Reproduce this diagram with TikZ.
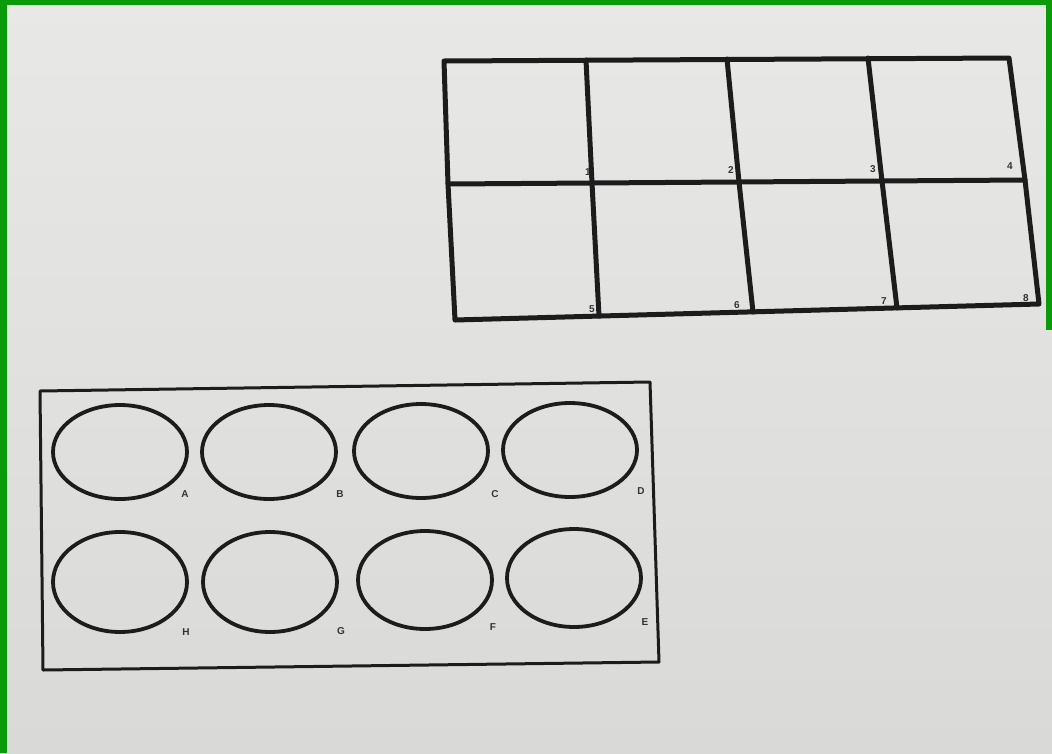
\documentclass[tikz,border=0pt]{standalone}
\usepackage{fontspec}
\setmainfont{Liberation Sans}
\usetikzlibrary{shapes.geometric}
\definecolor{bg}{HTML}{E8E9E7}
\definecolor{bgdark}{HTML}{D9D9D8}
\definecolor{frame}{HTML}{0A9A0A}
\definecolor{ink}{HTML}{1C1C1C}
\tikzset{
  gridline/.style={draw=ink, line width=5pt, line cap=round, line join=round},
  trayline/.style={draw=ink, line width=3pt, line join=round},
  well/.style={ellipse, draw=ink, line width=3.8pt, minimum width=134pt, minimum height=94pt, inner sep=0pt},
  lbl/.style={font=\bfseries\fontsize{10}{10}\selectfont, text=ink!90, inner sep=0pt}
}
\begin{document}
\begin{tikzpicture}[x=1pt,y=-1pt]
\useasboundingbox (0,0) rectangle (1052,753);
\shade[top color=bg, bottom color=bgdark] (0,0) rectangle (1052,753);
% green frame
\fill[frame] (0,0) rectangle (1052,5);
\fill[frame] (0,0) rectangle (7,753);
\fill[frame] (1046,0) rectangle (1052,330);

% grid (3 rows of corners x 5 columns)
\coordinate (g00) at (444,61);  \coordinate (g01) at (586,60);  \coordinate (g02) at (727,59);  \coordinate (g03) at (868,58);  \coordinate (g04) at (1009,58);
\coordinate (g10) at (448,184); \coordinate (g11) at (592,183); \coordinate (g12) at (739,182); \coordinate (g13) at (882,181); \coordinate (g14) at (1025,180);
\coordinate (g20) at (455,320); \coordinate (g21) at (599,316); \coordinate (g22) at (753,312); \coordinate (g23) at (897,308); \coordinate (g24) at (1039,304);
\draw[gridline] (g00) -- (g04) -- (g14) -- (g24) -- (g20) -- (g10) -- cycle;
\draw[gridline] (g10) -- (g14);
\draw[gridline] (g01) -- (g11) -- (g21);
\draw[gridline] (g02) -- (g12) -- (g22);
\draw[gridline] (g03) -- (g13) -- (g23);
\node[lbl] (n1) at (588,172) {1};
\node[lbl] (n2) at (731,170) {2};
\node[lbl] (n3) at (873,169) {3};
\node[lbl] (n4) at (1010,166) {4};
\node[lbl] (n5) at (592,309) {5};
\node[lbl] (n6) at (737,305) {6};
\node[lbl] (n7) at (884,301) {7};
\node[lbl] (n8) at (1026,298) {8};

% tray with wells
\draw[trayline] (40,391) -- (650,382) -- (659,662) -- (43,670) -- cycle;
\node[well] (wA) at (120,452) {};
\node[well] (wB) at (269,452) {};
\node[well] (wC) at (421,451) {};
\node[well] (wD) at (570,450) {};
\node[well, minimum height=100pt] (wH) at (120,582) {};
\node[well, minimum height=100pt] (wG) at (270,582) {};
\node[well, minimum height=98pt] (wF) at (425,580) {};
\node[well, minimum height=98pt] (wE) at (574,578) {};
\node[lbl] (lA) at (185,494) {A};
\node[lbl] (lB) at (340,494) {B};
\node[lbl] (lC) at (495,494) {C};
\node[lbl] (lD) at (641,491) {D};
\node[lbl] (lH) at (186,632) {H};
\node[lbl] (lG) at (341,631) {G};
\node[lbl] (lF) at (493,627) {F};
\node[lbl] (lE) at (645,622) {E};
\end{tikzpicture}
\end{document}
